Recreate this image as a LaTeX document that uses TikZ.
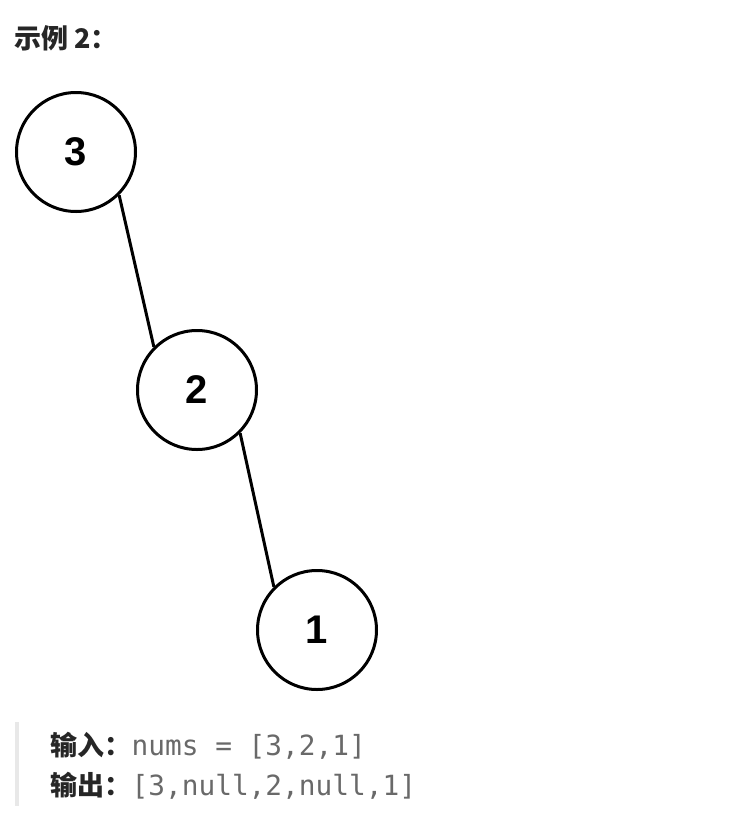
\documentclass[tikz,border=0pt]{standalone}
\usepackage{fontspec}
\setmainfont{Liberation Sans}
\setmonofont{DejaVu Sans Mono}
\newfontfamily\cjk{Noto Sans CJK SC}
\usetikzlibrary{positioning}
\definecolor{ink}{RGB}{38,38,38}
\definecolor{code}{RGB}{105,105,105}
\definecolor{quote}{RGB}{232,232,232}

\begin{document}
\begin{tikzpicture}[x=1pt,y=-1pt,
  tnode/.style={circle,draw,line width=3pt,minimum size=119pt,inner sep=0pt,font=\fontsize{40}{40}\selectfont\bfseries},
  edge/.style={line width=3pt},
  lbl/.style={anchor=base west,inner sep=0pt,text=ink,font=\cjk\fontsize{27}{30}\selectfont\bfseries},
  codetxt/.style={anchor=base west,inner sep=0pt,text=code,font=\ttfamily\fontsize{27.8}{30}\selectfont}]
  \useasboundingbox (0,0) rectangle (750,820);
  \node[lbl] (title) at (14,48) {示例 2：};
  % the tree
  \foreach \k/\x/\y in {3/76/152,2/197/390,1/317/630} {\node[tnode] (n\k) at (\x,\y) {\k};}
  \draw[edge] (n3.-45) -- (n2.135);
  \draw[edge] (n2.-45) -- (n1.135);
  % quote block
  \fill[quote] (15,722) rectangle (19,806);
  \node[lbl] (inlbl) at (50,755) {输入：};
  \node[codetxt,base right=0pt of inlbl] (inval) {nums = [3,2,1]};
  \node[lbl] (outlbl) at (50,795) {输出：};
  \node[codetxt,base right=0pt of outlbl] (outval) {[3,null,2,null,1]};
\end{tikzpicture}
\end{document}
